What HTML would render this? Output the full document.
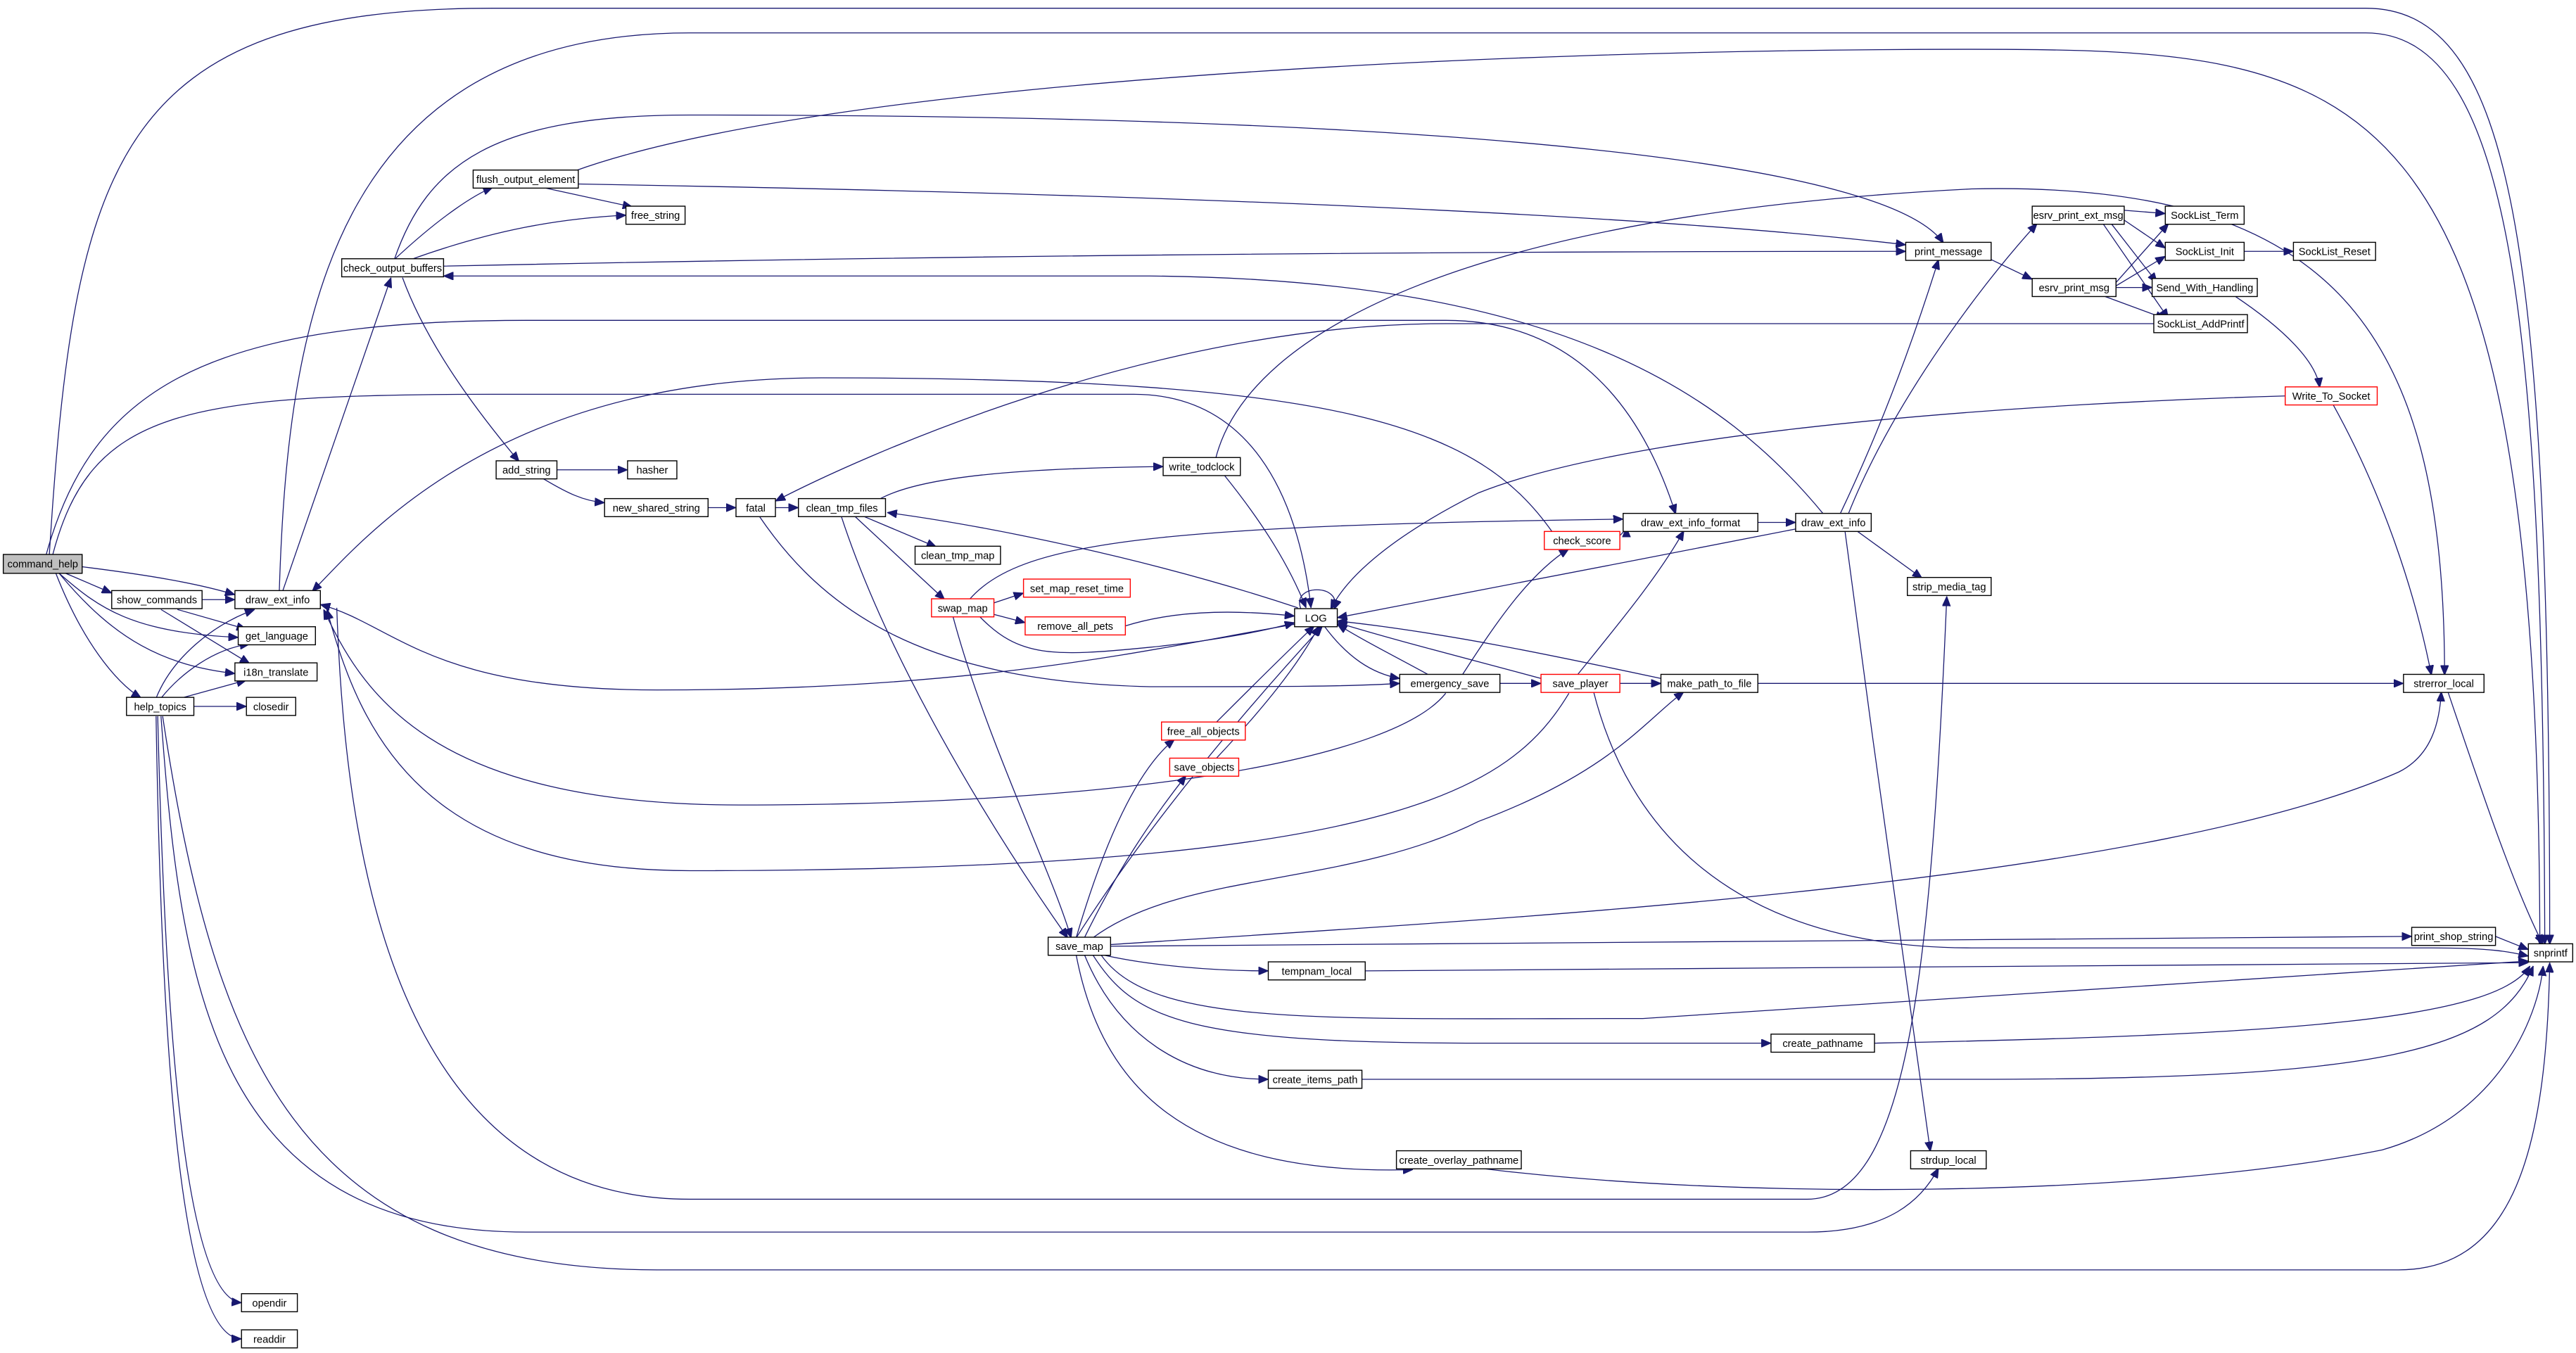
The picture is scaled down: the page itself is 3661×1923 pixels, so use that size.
<!DOCTYPE html>
<html><head><meta charset="utf-8"><style>
html,body{margin:0;padding:0;background:#fff;}
svg{display:block}
text{font-family:"Liberation Sans",sans-serif;font-size:6.3px;text-anchor:middle;fill:#000}
.e{fill:none;stroke:#191970;stroke-width:0.55;marker-end:url(#a)}
.n{fill:#fff;stroke:#000;stroke-width:0.6}
.r{fill:#fff;stroke:#f00;stroke-width:0.6}
</style></head><body>
<svg width="3661" height="1923" viewBox="0 0 1568 823.6" xmlns="http://www.w3.org/2000/svg">
<defs><marker id="a" markerWidth="6" markerHeight="5" refX="6" refY="2.5" orient="auto" markerUnits="userSpaceOnUse"><path d="M0,0 L6,2.5 L0,5z" fill="#191970" stroke="#191970" stroke-width="0.4"/></marker></defs>
<g>
<path class="e" d="M30,338 C45,100 70,5 300,5 L1440,5 C1530,5 1552,150 1552,575"/>
<path class="e" d="M32,338 C55,250 110,240 300,240 L690,240 C760,240 790,300 798,370"/>
<path class="e" d="M28,338 C55,240 120,195 320,195 L880,195 C960,195 1000,250 1020,313"/>
<path class="e" d="M50,345 C90,350 120,355 143,362"/>
<path class="e" d="M40,349 L68,361"/>
<path class="e" d="M36,349 C60,370 80,385 145,388"/>
<path class="e" d="M36,349 C70,390 100,405 143,410"/>
<path class="e" d="M34,349 C50,390 70,415 86,425"/>
<path class="e" d="M123,365 L143,365"/>
<path class="e" d="M108,371 L150,383"/>
<path class="e" d="M98,371 L152,404"/>
<path class="e" d="M95,425 C105,400 130,380 155,371"/>
<path class="e" d="M98,425 C110,410 130,395 152,392"/>
<path class="e" d="M110,425 L150,414"/>
<path class="e" d="M118,430 L150,430"/>
<path class="e" d="M96,436 C100,600 110,790 147,793"/>
<path class="e" d="M95,436 C98,620 108,815 147,815"/>
<path class="e" d="M98,436 C110,600 130,750 320,750 L1100,750 C1150,750 1170,730 1180,711"/>
<path class="e" d="M99,436 C130,640 180,773 400,773 L1460,773 C1530,773 1550,700 1552,586"/>
<path class="e" d="M170,360 C175,200 200,20 420,20 L1440,20 C1530,20 1548,200 1549,575"/>
<path class="e" d="M172,360 L238,169"/>
<path class="e" d="M205,370 C210,520 240,730 420,730 L1100,730 C1160,730 1175,600 1185,363"/>
<path class="e" d="M788,380 C700,395 600,420 400,420 C260,420 240,380 195,368"/>
<path class="e" d="M945,324 C900,260 820,230 500,230 C300,230 220,330 190,360"/>
<path class="e" d="M880,422 C850,460 700,490 450,490 C260,490 220,420 197,371"/>
<path class="e" d="M955,422 C920,480 850,530 420,530 C260,530 220,450 199,371"/>
<path class="e" d="M240,158 C270,130 290,118 300,114"/>
<path class="e" d="M250,158 C300,140 340,133 381,131"/>
<path class="e" d="M270,162 C600,155 900,153 1160,153"/>
<path class="e" d="M245,169 C260,210 290,250 316,281"/>
<path class="e" d="M240,158 C260,100 300,70 420,70 C900,70 1150,100 1183,148"/>
<path class="e" d="M330,114 L385,126"/>
<path class="e" d="M352,112 C700,118 1000,130 1160,149"/>
<path class="e" d="M350,104 C500,50 900,30 1200,30 C1440,30 1545,40 1546,575"/>
<path class="e" d="M339,286 L382,286"/>
<path class="e" d="M330,291 C345,300 355,305 368,306"/>
<path class="e" d="M431,309 L448,309"/>
<path class="e" d="M472,309 L486,309"/>
<path class="e" d="M462,314 C500,370 560,415 700,418 C780,418 820,418 852,416"/>
<path class="e" d="M535,304 C560,290 620,285 708,284"/>
<path class="e" d="M525,314 L570,333"/>
<path class="e" d="M520,314 L575,365"/>
<path class="e" d="M512,314 C540,400 600,500 650,571"/>
<path class="e" d="M790,370 C700,340 600,320 540,312"/>
<path class="e" d="M590,365 C620,330 700,320 988,316"/>
<path class="e" d="M605,367 L623,361"/>
<path class="e" d="M605,374 L624,379"/>
<path class="e" d="M685,381 C720,370 760,372 788,375"/>
<path class="e" d="M596,375 C620,400 640,400 700,394 C740,390 770,384 788,379"/>
<path class="e" d="M580,375 C600,450 640,530 652,571"/>
<path class="e" d="M745,289 C770,320 785,345 795,370"/>
<path class="e" d="M740,279 C760,200 900,130 1200,115 C1420,110 1488,200 1488,411"/>
<path class="e" d="M792,371 C785,355 818,355 812,371"/>
<path class="e" d="M806,381 C820,400 835,410 852,413"/>
<path class="e" d="M870,411 C850,400 830,390 814,380"/>
<path class="e" d="M938,413 C890,400 850,390 814,379"/>
<path class="e" d="M1011,413 C950,400 880,385 814,378"/>
<path class="e" d="M1093,322 C1000,340 900,360 814,376"/>
<path class="e" d="M1391,241 C1250,245 1000,260 900,300 C850,325 820,350 810,371"/>
<path class="e" d="M740,440 C760,420 780,400 800,381"/>
<path class="e" d="M740,462 C770,430 790,405 803,381"/>
<path class="e" d="M655,571 C700,500 760,430 805,381"/>
<path class="e" d="M913,416 L938,416"/>
<path class="e" d="M890,411 C910,380 930,350 955,334"/>
<path class="e" d="M960,411 C985,380 1010,350 1025,323"/>
<path class="e" d="M986,416 L1011,416"/>
<path class="e" d="M970,421 C990,500 1050,577 1200,577 L1480,577 C1520,577 1530,580 1539,582"/>
<path class="e" d="M986,326 C988,324 990,322 990,321"/>
<path class="e" d="M1070,318 L1093,318"/>
<path class="e" d="M1070,416 L1463,416"/>
<path class="e" d="M1120,313 C1150,250 1170,190 1180,158"/>
<path class="e" d="M1125,313 C1150,250 1200,180 1240,136"/>
<path class="e" d="M1130,323 L1170,352"/>
<path class="e" d="M1123,323 C1140,450 1160,600 1175,701"/>
<path class="e" d="M1110,313 C1050,240 950,170 700,168 L300,168 C280,168 275,168 270,168"/>
<path class="e" d="M1212,158 L1237,170"/>
<path class="e" d="M1293,128 L1318,130"/>
<path class="e" d="M1293,134 L1318,151"/>
<path class="e" d="M1285,136 L1313,172"/>
<path class="e" d="M1280,136 L1320,194"/>
<path class="e" d="M1288,172 L1320,136"/>
<path class="e" d="M1288,174 L1318,156"/>
<path class="e" d="M1288,175 L1310,175"/>
<path class="e" d="M1280,180 L1318,194"/>
<path class="e" d="M1366,153 L1396,153"/>
<path class="e" d="M1360,180 C1390,200 1410,220 1412,236"/>
<path class="e" d="M1311,197 L880,197 C700,197 520,280 472,305"/>
<path class="e" d="M1420,246 C1450,300 1470,360 1480,411"/>
<path class="e" d="M1490,421 C1510,480 1530,540 1548,575"/>
<path class="e" d="M655,571 C670,520 690,470 715,450"/>
<path class="e" d="M660,571 C680,530 700,500 722,472"/>
<path class="e" d="M665,571 C720,530 820,540 900,500 C980,470 1000,440 1025,421"/>
<path class="e" d="M676,575 C900,560 1300,540 1460,470 C1480,460 1485,440 1486,421"/>
<path class="e" d="M676,576 L1468,570"/>
<path class="e" d="M670,581 C700,588 740,591 772,591"/>
<path class="e" d="M670,581 C700,625 800,620 1000,620 L1539,585"/>
<path class="e" d="M665,581 C690,620 720,635 900,635 L1078,635"/>
<path class="e" d="M660,581 C680,630 720,657 772,657"/>
<path class="e" d="M655,581 C670,660 720,716 860,712"/>
<path class="e" d="M831,591 L1539,586"/>
<path class="e" d="M1141,635 C1400,630 1520,620 1540,588"/>
<path class="e" d="M829,657 L1200,657 C1450,657 1520,640 1542,588"/>
<path class="e" d="M900,711 C1050,730 1300,730 1450,700 C1520,680 1545,620 1548,588"/>
<path class="e" d="M1519,570 L1539,578"/>
</g>
<g>
<rect x="2" y="337.5" width="48" height="11.5" fill="#bfbfbf" stroke="#000" stroke-width="0.6"/><text x="26" y="345.5">command_help</text>
<rect class="n" x="68" y="359.5" width="55" height="11"/><text x="95.5" y="367.3">show_commands</text>
<rect class="n" x="143" y="359.5" width="52" height="11"/><text x="169" y="367.3">draw_ext_info</text>
<rect class="n" x="145" y="381.5" width="47" height="11"/><text x="168.5" y="389.3">get_language</text>
<rect class="n" x="143" y="403.5" width="50" height="11"/><text x="168" y="411.3">i18n_translate</text>
<rect class="n" x="77" y="424.5" width="41" height="11"/><text x="97.5" y="432.3">help_topics</text>
<rect class="n" x="150" y="424.5" width="30" height="11"/><text x="165" y="432.3">closedir</text>
<rect class="n" x="147" y="787.5" width="34" height="11"/><text x="164" y="795.3">opendir</text>
<rect class="n" x="147" y="809.5" width="34" height="11"/><text x="164" y="817.3">readdir</text>
<rect class="n" x="208" y="157.5" width="62" height="11"/><text x="239" y="165.3">check_output_buffers</text>
<rect class="n" x="288" y="103.5" width="64" height="11"/><text x="320" y="111.3">flush_output_element</text>
<rect class="n" x="381" y="125.5" width="36" height="11"/><text x="399" y="133.3">free_string</text>
<rect class="n" x="302" y="280.5" width="37" height="11"/><text x="320.5" y="288.3">add_string</text>
<rect class="n" x="382" y="280.5" width="30" height="11"/><text x="397" y="288.3">hasher</text>
<rect class="n" x="368" y="303.5" width="63" height="11"/><text x="399.5" y="311.3">new_shared_string</text>
<rect class="n" x="448" y="303.5" width="24" height="11"/><text x="460" y="311.3">fatal</text>
<rect class="n" x="486" y="303.5" width="53" height="11"/><text x="512.5" y="311.3">clean_tmp_files</text>
<rect class="n" x="557" y="332.5" width="52" height="11"/><text x="583" y="340.3">clean_tmp_map</text>
<rect class="r" x="567" y="364.5" width="38" height="11"/><text x="586" y="372.3">swap_map</text>
<rect class="r" x="623" y="352.5" width="65" height="11"/><text x="655.5" y="360.3">set_map_reset_time</text>
<rect class="r" x="624" y="375.5" width="61" height="11"/><text x="654.5" y="383.3">remove_all_pets</text>
<rect class="n" x="708" y="278.5" width="47" height="11"/><text x="731.5" y="286.3">write_todclock</text>
<rect class="n" x="788" y="370.5" width="26" height="11"/><text x="801" y="378.3">LOG</text>
<rect class="r" x="707" y="439.5" width="51" height="11"/><text x="732.5" y="447.3">free_all_objects</text>
<rect class="r" x="712" y="461.5" width="42" height="11"/><text x="733" y="469.3">save_objects</text>
<rect class="n" x="638" y="570.5" width="38" height="11"/><text x="657" y="578.3">save_map</text>
<rect class="r" x="940" y="323.5" width="46" height="11"/><text x="963" y="331.3">check_score</text>
<rect class="n" x="988" y="312.5" width="82" height="11"/><text x="1029" y="320.3">draw_ext_info_format</text>
<rect class="n" x="1093" y="312.5" width="46" height="11"/><text x="1116" y="320.3">draw_ext_info</text>
<rect class="n" x="852" y="410.5" width="61" height="11"/><text x="882.5" y="418.3">emergency_save</text>
<rect class="r" x="938" y="410.5" width="48" height="11"/><text x="962" y="418.3">save_player</text>
<rect class="n" x="1011" y="410.5" width="59" height="11"/><text x="1040.5" y="418.3">make_path_to_file</text>
<rect class="n" x="1160" y="147.5" width="52" height="11"/><text x="1186" y="155.3">print_message</text>
<rect class="n" x="1237" y="125.5" width="56" height="11"/><text x="1265" y="133.3">esrv_print_ext_msg</text>
<rect class="n" x="1237" y="169.5" width="51" height="11"/><text x="1262.5" y="177.3">esrv_print_msg</text>
<rect class="n" x="1318" y="125.5" width="48" height="11"/><text x="1342" y="133.3">SockList_Term</text>
<rect class="n" x="1318" y="147.5" width="48" height="11"/><text x="1342" y="155.3">SockList_Init</text>
<rect class="n" x="1396" y="147.5" width="50" height="11"/><text x="1421" y="155.3">SockList_Reset</text>
<rect class="n" x="1310" y="169.5" width="64" height="11"/><text x="1342" y="177.3">Send_With_Handling</text>
<rect class="n" x="1311" y="191.5" width="57" height="11"/><text x="1339.5" y="199.3">SockList_AddPrintf</text>
<rect class="r" x="1391" y="235.5" width="56" height="11"/><text x="1419" y="243.3">Write_To_Socket</text>
<rect class="n" x="1161" y="351.5" width="51" height="11"/><text x="1186.5" y="359.3">strip_media_tag</text>
<rect class="n" x="1463" y="410.5" width="49" height="11"/><text x="1487.5" y="418.3">strerror_local</text>
<rect class="n" x="1539" y="574.5" width="27" height="11"/><text x="1552.5" y="582.3">snprintf</text>
<rect class="n" x="1468" y="564.5" width="51" height="11"/><text x="1493.5" y="572.3">print_shop_string</text>
<rect class="n" x="772" y="585.5" width="59" height="11"/><text x="801.5" y="593.3">tempnam_local</text>
<rect class="n" x="1078" y="629.5" width="63" height="11"/><text x="1109.5" y="637.3">create_pathname</text>
<rect class="n" x="772" y="651.5" width="57" height="11"/><text x="800.5" y="659.3">create_items_path</text>
<rect class="n" x="850" y="700.5" width="76" height="11"/><text x="888" y="708.3">create_overlay_pathname</text>
<rect class="n" x="1163" y="700.5" width="46" height="11"/><text x="1186" y="708.3">strdup_local</text>
</g>
</svg>
</body></html>
